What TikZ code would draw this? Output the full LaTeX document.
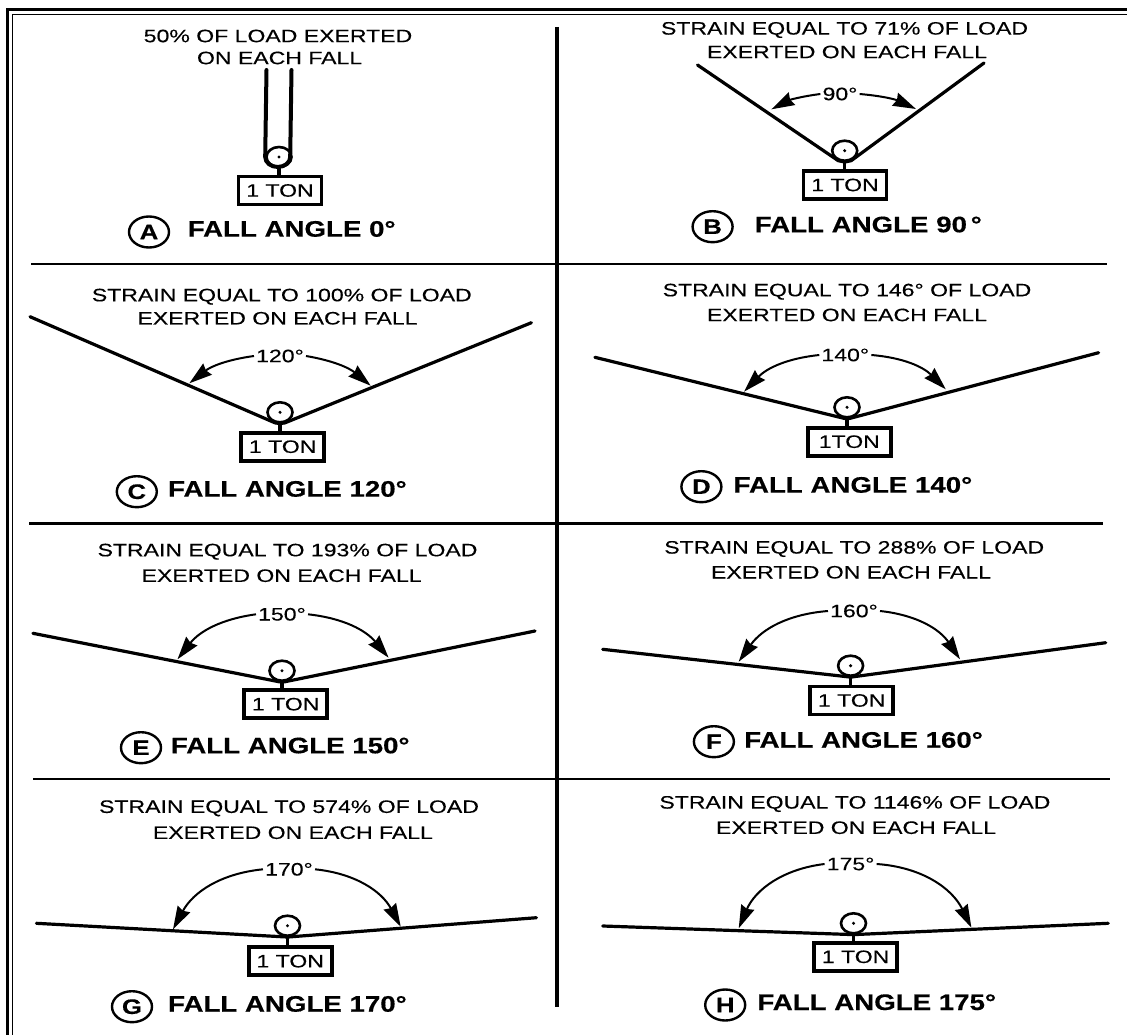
\documentclass[tikz,border=0pt]{standalone}
\usepackage{fontspec}
\usetikzlibrary{shapes.geometric,arrows.meta}
\setmainfont{Liberation Sans}
\newfontfamily\capfont[FakeStretch=1.28,FakeBold=0.3]{Liberation Sans}
\newfontfamily\lblfont[FakeStretch=1.23,FakeBold=0.4]{Liberation Sans Bold}
\tikzset{
  captext/.style={inner sep=0pt,font=\capfont\fontsize{18}{20}\selectfont},
  angletext/.style={inner sep=2pt,font=\capfont\fontsize{18}{20}\selectfont},
  falltext/.style={anchor=base west,inner sep=0pt,font=\lblfont\fontsize{22.5}{25}\selectfont},
  ringtext/.style={ellipse,draw,line width=2.4pt,minimum width=40pt,minimum height=31pt,inner sep=0pt,font=\lblfont\fontsize{21}{24}\selectfont},
  loadbox/.style={draw,line width=3.8pt,fill=white,minimum width=83pt,minimum height=28pt,inner sep=0pt,font=\capfont\fontsize{18}{20}\selectfont},
  pulley/.style={ellipse,draw,line width=2.6pt,fill=white,minimum width=25pt,minimum height=20pt,inner sep=0pt,
    path picture={\fill[black] (path picture bounding box.center) circle (1.7pt);}},
  rope/.style={line width=3.2pt,line join=round,line cap=round},
  stem/.style={line width=3.2pt},
  anglearrow/.style={line width=2pt,-{Stealth[length=23pt,width=14pt,inset=2pt]}},
  rule/.style={line width=2.6pt},
}
\newcommand\fallparts[5]{% id, left contact angle, right contact angle, bend of both arrows
  \draw[rope] (L#1) -- (p#1.#2) -- (p#1.270) -- (p#1.#3) -- (R#1);
  \draw[stem] (p#1.south) -- (p#1.south |- b#1.north);
  \draw[anglearrow] (l#1.west) to[bend right=#4] (tl#1);
  \draw[anglearrow] (l#1.east) to[bend left=#5] (tr#1);
}
\begin{document}
\begin{tikzpicture}[x=1pt,y=-1pt]
\useasboundingbox (0,0) rectangle (1127,1035);
% frame
\coordinate (fo1) at (7.5,1035); \coordinate (fo2) at (7.5,10); \coordinate (fo3) at (1127,10);
\coordinate (fi1) at (12.5,1035); \coordinate (fi2) at (12.5,14.5); \coordinate (fi3) at (1127,14.5);
\draw[line width=3pt] (fo1) -- (fo2) -- (fo3);
\draw[line width=1.6pt] (fi1) -- (fi2) -- (fi3);
% dividers
\coordinate (v1) at (557,27); \coordinate (v2) at (557,1007);
\draw[line width=4pt] (v1) -- (v2);
\coordinate (h1a) at (31,264); \coordinate (h1b) at (1107,264);
\coordinate (h2a) at (29,523.5); \coordinate (h2b) at (1103,523.5);
\coordinate (h3a) at (33,779); \coordinate (h3b) at (1110,779);
\draw[rule] (h1a) -- (h1b);
\draw[rule] (h2a) -- (h2b);
\draw[rule] (h3a) -- (h3b);

% A
\node[captext] (t1A) at (278,36) {50\% OF LOAD EXERTED};
\node[captext] (t2A) at (279.6,58) {ON EACH FALL};
\node[pulley] (pA) at (279,157) {};
\node[loadbox] (bA) at (280,190.5) {1 TON};
\coordinate (LA) at (266.5,70); \coordinate (RA) at (291.5,70);
\draw[line width=4pt,line cap=round] (LA) -- (pA.west) arc[start angle=180,end angle=360,x radius=12.5pt,y radius=10pt] -- (RA);
\draw[stem] (pA.south) -- (pA.south |- bA.north);
\node[ringtext] (cA) at (149,232) {A};
\node[falltext] (fA) at (187.5,236.7) {FALL ANGLE 0°};

% B
\node[captext] (t1B) at (844.5,30) {STRAIN EQUAL TO 71\% OF LOAD};
\node[captext] (t2B) at (847,52) {EXERTED ON EACH FALL};
\node[pulley] (pB) at (844.7,150.7) {};
\node[loadbox] (bB) at (845,185) {1 TON};
\coordinate (LB) at (697.5,65); \coordinate (RB) at (984,63);
\node[angletext] (lB) at (840,94) {90°};
\coordinate (tlB) at (771.4,109.3); \coordinate (trB) at (916,109);
\fallparts{B}{237}{303}{10}{10}
\node[ringtext] (cB) at (712.6,226.7) {B};
\node[falltext] (fB) at (754.6,232.3) {FALL ANGLE 90\,°};

% C
\node[captext] (t1C) at (281.8,296.7) {STRAIN EQUAL TO 100\% OF LOAD};
\node[captext] (t2C) at (277.5,318.3) {EXERTED ON EACH FALL};
\node[pulley] (pC) at (280,412.3) {};
\node[loadbox] (bC) at (282.7,446.7) {1 TON};
\coordinate (LC) at (30,316.7); \coordinate (RC) at (531.4,322.7);
\node[angletext] (lC) at (280,356) {120°};
\coordinate (tlC) at (189.3,383.3); \coordinate (trC) at (370.7,385.7);
\fallparts{C}{245}{295}{15}{15}
\node[ringtext] (cC) at (136.8,491.7) {C};
\node[falltext] (fC) at (167.9,496.7) {FALL ANGLE 120°};

% D
\node[captext] (t1D) at (847,291.7) {STRAIN EQUAL TO 146° OF LOAD};
\node[captext] (t2D) at (847,315) {EXERTED ON EACH FALL};
\node[pulley] (pD) at (847,407.3) {};
\node[loadbox] (bD) at (849.3,441.7) {1TON};
\coordinate (LD) at (594.9,357.3); \coordinate (RD) at (1098.6,352.7);
\node[angletext] (lD) at (845.3,355) {140°};
\coordinate (tlD) at (744,391.7); \coordinate (trD) at (945.8,389.3);
\fallparts{D}{255}{285}{20}{20}
\node[ringtext] (cD) at (701.4,486.7) {D};
\node[falltext] (fD) at (733.4,492.7) {FALL ANGLE 140°};

% E
\node[captext] (t1E) at (287.5,551.7) {STRAIN EQUAL TO 193\% OF LOAD};
\node[captext] (t2E) at (281.6,575.7) {EXERTED ON EACH FALL};
\node[pulley] (pE) at (282,670.7) {};
\node[loadbox] (bE) at (285.7,704.2) {1 TON};
\coordinate (LE) at (32.9,633.3); \coordinate (RE) at (535,631);
\node[angletext] (lE) at (282,614.3) {150°};
\coordinate (tlE) at (177.5,659.3); \coordinate (trE) at (388.6,657.7);
\fallparts{E}{257}{283}{22}{22}
\node[ringtext] (cE) at (141,747.7) {E};
\node[falltext] (fE) at (170.7,753.3) {FALL ANGLE 150°};

% F
\node[captext] (t1F) at (854.2,549) {STRAIN EQUAL TO 288\% OF LOAD};
\node[captext] (t2F) at (851,572.3) {EXERTED ON EACH FALL};
\node[pulley] (pF) at (850.6,665.7) {};
\node[loadbox] (bF) at (851.7,700.5) {1 TON};
\coordinate (LF) at (602.7,649.3); \coordinate (RF) at (1105.7,642.7);
\node[angletext] (lF) at (854,611) {160°};
\coordinate (tlF) at (738.7,661.7); \coordinate (trF) at (960,659.3);
\fallparts{F}{262}{278}{25}{25}
\node[ringtext] (cF) at (713.9,741.7) {F};
\node[falltext] (fF) at (744,747.7) {FALL ANGLE 160°};

% G
\node[captext] (t1G) at (289,808.3) {STRAIN EQUAL TO 574\% OF LOAD};
\node[captext] (t2G) at (292.9,832.7) {EXERTED ON EACH FALL};
\node[pulley] (pG) at (287.5,925.7) {};
\node[loadbox] (bG) at (290.2,961.2) {1 TON};
\coordinate (LG) at (36.4,923.3); \coordinate (RG) at (536.4,917.7);
\node[angletext] (lG) at (289,869.3) {170°};
\coordinate (tlG) at (173,929.3); \coordinate (trG) at (400.7,926.7);
\fallparts{G}{265}{275}{28}{28}
\node[ringtext] (cG) at (132,1006.7) {G};
\node[falltext] (fG) at (167.9,1011.7) {FALL ANGLE 170°};

% H
\node[captext] (t1H) at (854.9,804) {STRAIN EQUAL TO 1146\% OF LOAD};
\node[captext] (t2H) at (856,827.7) {EXERTED ON EACH FALL};
\node[pulley] (pH) at (853.5,923.3) {};
\node[loadbox] (bH) at (855.6,956.8) {1 TON};
\coordinate (LH) at (602.7,926); \coordinate (RH) at (1108.2,923.3);
\node[angletext] (lH) at (850.6,864) {175°};
\coordinate (tlH) at (738.7,928.3); \coordinate (trH) at (971.4,927.7);
\fallparts{H}{268}{272}{30}{30}
\node[ringtext] (cH) at (725.2,1005) {H};
\node[falltext] (fH) at (757.2,1010) {FALL ANGLE 175°};
\end{tikzpicture}
\end{document}
